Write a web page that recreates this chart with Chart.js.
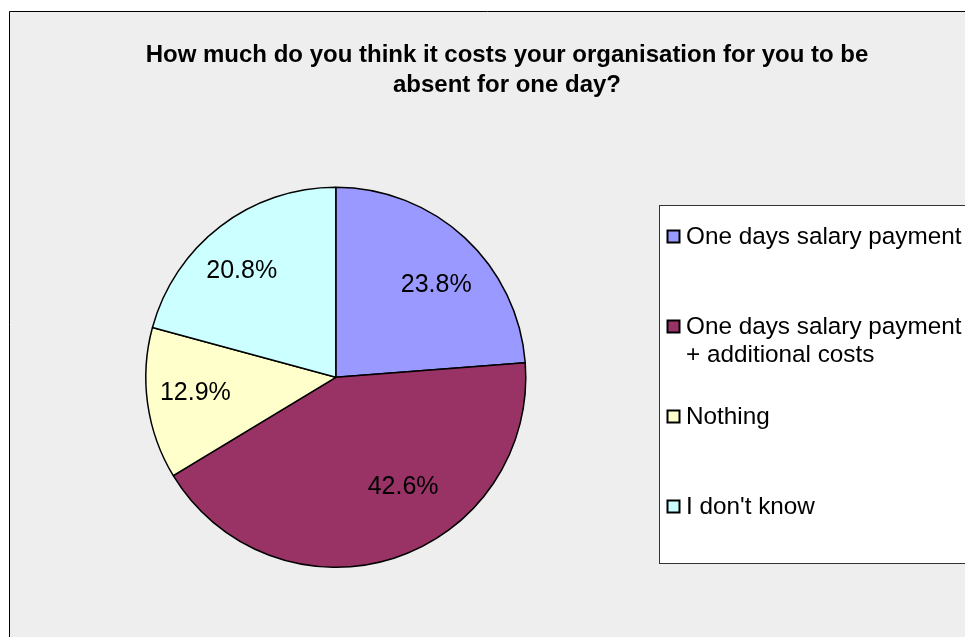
<!DOCTYPE html>
<html>
<head>
<meta charset="utf-8">
<title>Cost of one day absence</title>
<script src="https://cdn.jsdelivr.net/npm/chart.js@4/dist/chart.umd.min.js"></script>
<style>
    html, body { margin: 0; padding: 0; background: #ffffff; }
    canvas { display: block; }
</style>
</head>
<body>
<canvas id="absenceChart" width="965" height="637"></canvas>
<script>
// Datos de la encuesta
const titleLines = [
    "How much do you think it costs your organisation for you to be",
    "absent for one day?",
];
const categories = [
    ["One days salary payment"],
    ["One days salary payment", "+ additional costs"],
    ["Nothing"],
    ["I don't know"],
];
const percentages = [23.8, 42.6, 12.9, 20.8];
const sliceColors = ["#9999ff", "#993366", "#ffffcc", "#ccffff"];

const FONT = '"Liberation Sans", Arial, sans-serif';

// Ajuste fino de cada etiqueta respecto al centro del sector (px)
const labelNudge = [[7.5, 8], [25.5, -20.5], [-5, -3], [-11, 2.5]];

// Fondo gris con el marco de la gráfica
const backgroundPlugin = {
    id: "chartBackground",
    beforeDraw(chart) {
        const ctx = chart.ctx;
        ctx.save();
        ctx.fillStyle = "#ffffff";
        ctx.fillRect(0, 0, chart.width, chart.height);
        ctx.fillStyle = "#eeeeee";
        ctx.fillRect(9.5, 11, chart.width, chart.height);
        ctx.strokeStyle = "#000000";
        ctx.lineWidth = 1;
        ctx.beginPath();
        ctx.moveTo(9.5, chart.height);
        ctx.lineTo(9.5, 11.5);
        ctx.lineTo(chart.width, 11.5);
        ctx.stroke();

        // título en dos líneas
        ctx.fillStyle = "#000000";
        ctx.font = "bold 24px " + FONT;
        ctx.textAlign = "center";
        ctx.textBaseline = "alphabetic";
        titleLines.forEach((line, i) => {
            ctx.fillText(line, 507, 62 + i * 30);
        });
        ctx.restore();
    },
};

// Porcentajes dentro de cada sector
const sliceLabelsPlugin = {
    id: "sliceLabels",
    afterDatasetsDraw(chart) {
        const ctx = chart.ctx;
        const meta = chart.getDatasetMeta(0);
        ctx.save();
        ctx.fillStyle = "#000000";
        ctx.font = "25px " + FONT;
        ctx.textAlign = "center";
        ctx.textBaseline = "middle";
        meta.data.forEach((arc, i) => {
            const p = arc.getProps(["x", "y", "startAngle", "endAngle", "outerRadius"], true);
            const mid = (p.startAngle + p.endAngle) / 2;
            const r = p.outerRadius * 0.72;
            const x = p.x + Math.cos(mid) * r + labelNudge[i][0];
            const y = p.y + Math.sin(mid) * r + labelNudge[i][1];
            ctx.fillText(percentages[i].toFixed(1) + "%", x, y);
        });
        ctx.restore();
    },
};

// Leyenda en recuadro blanco a la derecha
const legendBoxPlugin = {
    id: "legendBox",
    afterDraw(chart) {
        const ctx = chart.ctx;
        ctx.save();
        ctx.fillStyle = "#ffffff";
        ctx.fillRect(659.5, 205.5, 400, 358);
        ctx.strokeStyle = "#333333";
        ctx.lineWidth = 1;
        ctx.strokeRect(659.5, 205.5, 400, 358);

        ctx.font = "24.3px " + FONT;
        ctx.textAlign = "left";
        ctx.textBaseline = "middle";
        categories.forEach((lines, i) => {
            const y = 237 + i * 90;
            ctx.fillStyle = sliceColors[i];
            ctx.fillRect(667.5, y - 6.5, 12, 12);
            ctx.strokeStyle = "#000000";
            ctx.lineWidth = 2;
            ctx.strokeRect(667.5, y - 6.5, 12, 12);
            ctx.fillStyle = "#000000";
            lines.forEach((line, j) => {
                ctx.fillText(line, 686, y + j * 28);
            });
        });
        ctx.restore();
    },
};

document.addEventListener("DOMContentLoaded", () => {
    const ctx = document.getElementById("absenceChart").getContext("2d");

    new Chart(ctx, {
        type: "pie",
        data: {
            labels: categories.map((c) => c.join(" ")),
            datasets: [
                {
                    data: percentages,
                    backgroundColor: sliceColors,
                    borderColor: "#000000",
                    borderWidth: 1.5,
                    radius: 190,
                },
            ],
        },
        options: {
            responsive: false,
            animation: false,
            layout: {
                padding: { left: 0, right: 293.4, top: 186, bottom: 68.4 },
            },
            plugins: {
                legend: { display: false },
                title: { display: false },
                tooltip: { enabled: false },
            },
        },
        plugins: [backgroundPlugin, sliceLabelsPlugin, legendBoxPlugin],
    });
});
</script>
</body>
</html>
